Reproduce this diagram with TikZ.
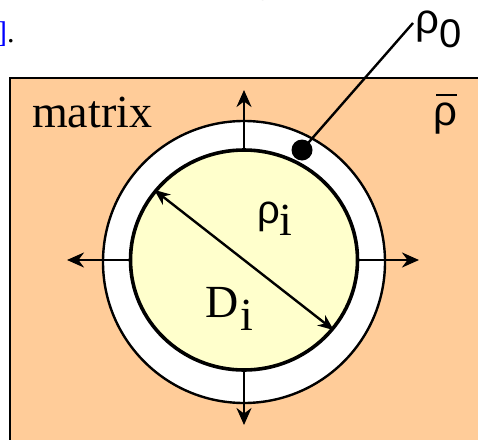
\documentclass[tikz,border=0pt]{standalone}
\usepackage{fontspec}
\setmainfont{Liberation Serif}
\newfontfamily\greekfont{Liberation Sans}
\usetikzlibrary{arrows.meta,shapes.geometric}
\definecolor{matrixorange}{RGB}{255,204,153}
\definecolor{paleyellow}{RGB}{255,255,204}
\definecolor{refblue}{RGB}{0,0,255}
\begin{document}
\begin{tikzpicture}[x=1pt,y=-1pt,
  lbl/.style={inner sep=0pt, anchor=base west, font=\fontsize{46}{46}\selectfont},
  glbl/.style={inner sep=0pt, anchor=base west, font=\greekfont\fontsize{42}{42}\selectfont},
  bodytext/.style={inner sep=0pt, anchor=base west},
  growarrow/.style={line width=2.4pt, -{Stealth[length=17pt,width=15pt]}},
  diaarrow/.style={line width=2.4pt, {Stealth[length=16pt,width=13pt]}-{Stealth[length=16pt,width=13pt]}},
  ]
\useasboundingbox (0,0) rectangle (478,439);
\begin{scope}
\clip (0,0) rectangle (478,439);
% fragments of the surrounding page text
\node[bodytext, font=\fontsize{42}{42}\selectfont] (topfrag) at (218,-9) {Fig. 2(b)};
\node[bodytext, font=\fontsize{30}{30}\selectfont] (cite) at (-3,42) {\textcolor{refblue}{]}.};
% matrix
\fill[matrixorange, draw=black, line width=2.4pt] (10,78) rectangle (495,455);
% particle
\node[circle, draw=black, fill=white, line width=2.4pt, minimum size=282pt, inner sep=0pt] (outer) at (244,262) {};
\node[ellipse, draw=black, fill=paleyellow, line width=3.6pt, minimum width=227pt, minimum height=220pt, inner sep=0pt] (inner) at (244,260) {};
% growth arrows
\coordinate (tipN) at (244,90);
\coordinate (tipS) at (244,425);
\coordinate (tipW) at (67,260);
\coordinate (tipE) at (419,260);
\draw[growarrow] (inner.north) -- (tipN);
\draw[growarrow] (inner.south) -- (tipS);
\draw[growarrow] (inner.west) -- (tipW);
\draw[growarrow] (inner.east) -- (tipE);
% diameter
\draw[diaarrow] (inner.142) -- (inner.-38);
% interface density marker
\node[circle, fill=black, minimum size=21pt, inner sep=0pt] (dot) at (302,150) {};
\coordinate (leader) at (413,23);
\draw[line width=2.4pt] (dot.center) -- (leader);
% labels
\node[lbl] (matrixlbl) at (32,127) {matrix};
\node[glbl] (rhobar) at (433,125) {\rlap{\hspace{3pt}\raisebox{29pt}{\rule{21pt}{2pt}}}ρ};
\node[glbl] (rhozero) at (415,33) {ρ\raisebox{-14pt}{\fontsize{40}{40}\selectfont 0}};
\node[inner sep=0pt, anchor=base west] (rhoi) at (257,223) {{\greekfont\fontsize{40}{40}\selectfont ρ}\raisebox{-12pt}{\fontsize{46}{46}\selectfont i}};
\node[lbl] (di) at (205,317) {D\hspace{2pt}\raisebox{-13pt}{i}};
\end{scope}
\end{tikzpicture}
\end{document}
